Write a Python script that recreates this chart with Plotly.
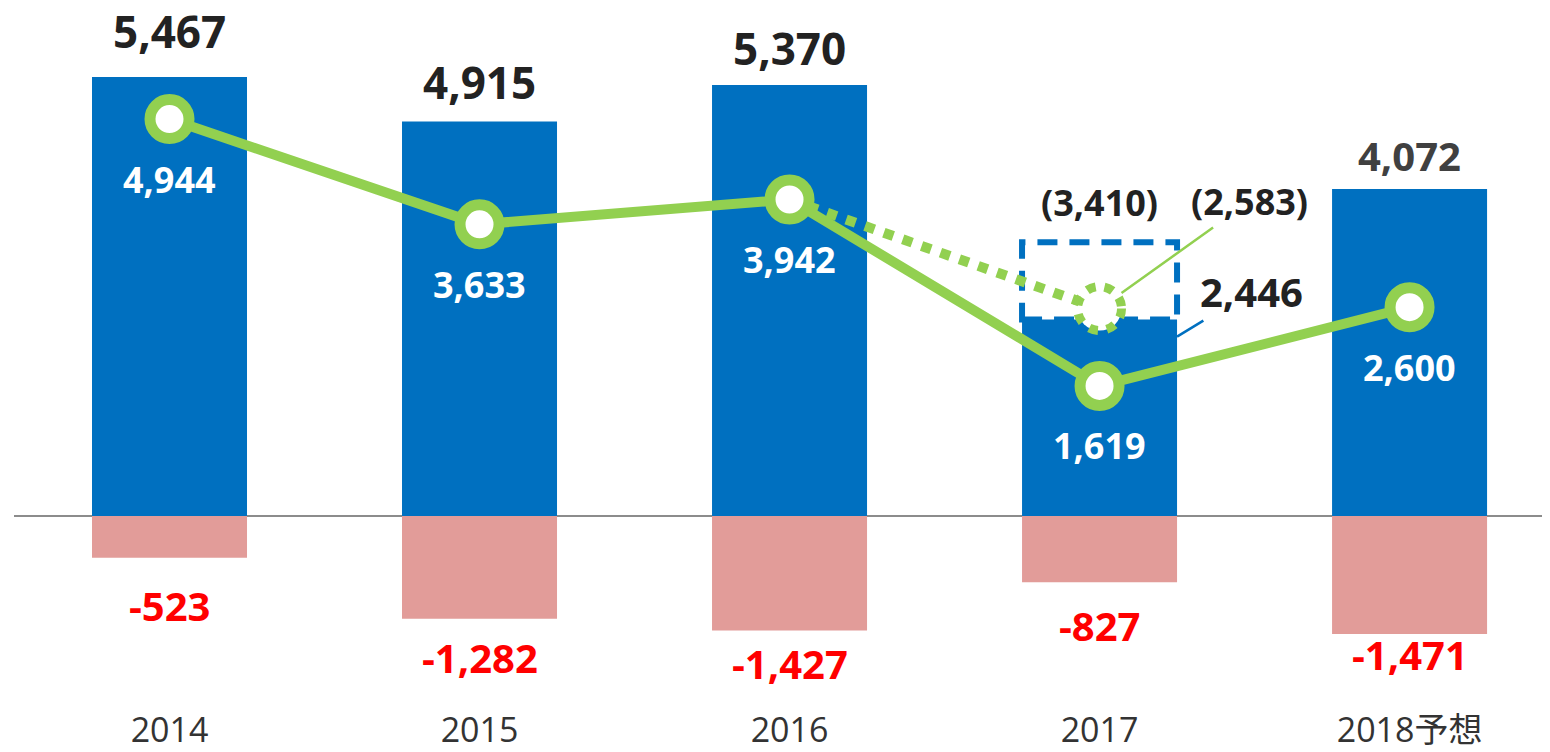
import plotly.graph_objects as go

years = ["2014", "2015", "2016", "2017", "2018予想"]
sales = [5467, 4915, 5370, 2446, 4072]
losses = [-523, -1282, -1427, -827, -1471]
profit = [4944, 3633, 3942, 1619, 2600]
plan_2017_sales = 3410
plan_2017_profit = 2583

BLUE = "#0070C0"
PINK = "#E29C99"
GREEN = "#92D050"
FONT = "Open Sans, Noto Sans CJK JP, sans-serif"

# label offsets in px (placement only)
top_shift = [46, 39, 37, 0, 34]
low_shift = [48, 39, 33, 43, 21]

fig = go.Figure()
fig.add_bar(x=years, y=sales, marker=dict(color=BLUE, line_width=0), width=0.5)
fig.add_bar(x=years, y=losses, marker=dict(color=PINK, line_width=0), width=0.5)

# planned (dotted) path 2016 -> 2017 plan
fig.add_scatter(
    x=[years[2], years[3]],
    y=[profit[2], plan_2017_profit],
    mode="lines",
    line=dict(color=GREEN, width=10, dash="dot"),
)
fig.add_scatter(
    x=years,
    y=profit,
    mode="lines+markers",
    line=dict(color=GREEN, width=10),
    marker=dict(size=39, color="white", line=dict(color=GREEN, width=11)),
)

# dashed box for planned 2017 sales
fig.add_shape(
    type="rect", xref="x", yref="y", layer="below",
    x0=3 - 0.25, x1=3 + 0.25, y0=sales[3], y1=plan_2017_sales,
    line=dict(color=BLUE, width=6, dash="20px,12px"),
)
# dotted circle for planned 2017 profit
fig.add_shape(
    type="circle", xref="x", yref="y",
    xsizemode="pixel", ysizemode="pixel",
    xanchor=3, yanchor=plan_2017_profit,
    x0=-22, x1=22, y0=-22, y1=22,
    fillcolor="white", line=dict(color=GREEN, width=9, dash="dot"),
)

for i, v in enumerate(sales):
    if i == 3:
        continue
    last = i == 4
    fig.add_annotation(
        x=i, y=v, text=f"{v:,}", showarrow=False, yanchor="middle", yshift=top_shift[i],
        font=dict(family=FONT, size=40 if last else 44, weight="bold",
                  color="#404040" if last else "#222222"),
    )

for i, v in enumerate(losses):
    fig.add_annotation(
        x=i, y=v, text=f"{v:,}", showarrow=False, yanchor="middle", yshift=-low_shift[i],
        font=dict(family=FONT, size=40, weight="bold", color="#FF0000"),
    )

for i, v in enumerate(profit):
    fig.add_annotation(
        x=i, y=v, text=f"{v:,}", showarrow=False, yanchor="middle", yshift=-60,
        font=dict(family=FONT, size=36, weight="bold", color="white"),
    )

# 2017 extras
fig.add_annotation(
    x=3, y=plan_2017_sales, text=f"({plan_2017_sales:,})", showarrow=False,
    yanchor="middle", yshift=40,
    font=dict(family=FONT, size=36, weight="bold", color="#222222"),
)
fig.add_annotation(
    x=3, y=plan_2017_profit, text=f"({plan_2017_profit:,})",
    showarrow=True, arrowhead=0, arrowwidth=2.5, arrowcolor=GREEN,
    ax=150, ay=-107, standoff=27,
    font=dict(family=FONT, size=36, weight="bold", color="#222222"),
)
fig.add_annotation(
    x=3 + 0.25, y=sales[3], yshift=-17, text=f"{sales[3]:,}",
    showarrow=True, arrowhead=0, arrowwidth=2.5, arrowcolor=BLUE,
    ax=74, ay=-45,
    font=dict(family=FONT, size=40, weight="bold", color="#222222"),
)

fig.update_layout(
    width=1542, height=744,
    margin=dict(l=6, r=0, t=0, b=42),
    barmode="relative",
    showlegend=False,
    plot_bgcolor="white",
    paper_bgcolor="white",
    xaxis=dict(
        type="category", range=[-0.5016, 4.453],
        showgrid=False, showline=False, ticks="",
        tickfont=dict(family=FONT, size=34, color="#333333"),
    ),
    yaxis=dict(
        range=[-2381, 6328], showgrid=False, showticklabels=False,
        zeroline=True, zerolinecolor="#8C8C8C", zerolinewidth=2,
        layer="above traces",
    ),
)

fig.write_html("out.html")
